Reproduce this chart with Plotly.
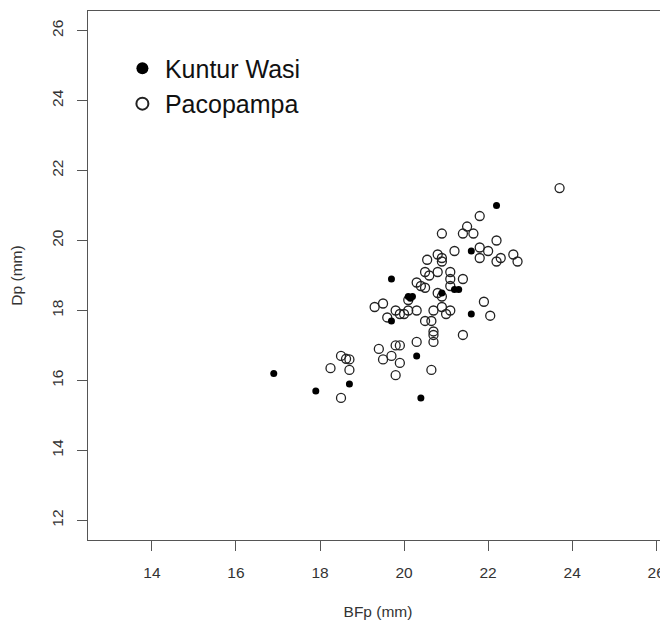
import plotly.graph_objects as go

# Kuntur Wasi (filled)
kw_bfp = [16.9, 17.9, 18.7, 19.7, 19.7, 20.1, 20.2, 20.15, 20.3, 20.4, 20.9, 21.2, 21.3, 21.6, 21.6, 22.2]
kw_dp = [16.2, 15.7, 15.9, 18.9, 17.7, 18.4, 18.4, 18.35, 16.7, 15.5, 18.5, 18.6, 18.6, 19.7, 17.9, 21.0]

# Pacopampa (open)
pp_bfp = [23.7, 21.8, 20.9, 21.4, 21.5, 21.65, 22.2, 21.2, 21.8, 22.0, 21.8, 22.2, 22.3, 22.6, 22.7,
          20.8, 20.9, 20.9, 20.55, 20.5, 20.6, 20.8, 21.1, 21.1, 21.4, 21.1, 20.3, 20.4, 20.5, 20.8,
          20.9, 20.1, 19.3, 19.5, 19.8, 20.1, 20.3, 19.9, 20.0, 19.6, 20.7, 20.9, 21.1, 21.0, 21.9,
          22.05, 20.5, 20.65, 20.7, 20.7, 20.7, 21.4, 20.3, 19.4, 19.7, 19.8, 19.9, 19.5, 19.9, 19.8,
          20.65, 18.5, 18.62, 18.7, 18.25, 18.7, 18.5]
pp_dp = [21.5, 20.7, 20.2, 20.2, 20.4, 20.2, 20.0, 19.7, 19.8, 19.7, 19.5, 19.4, 19.5, 19.6, 19.4,
         19.6, 19.5, 19.4, 19.45, 19.1, 19.0, 19.1, 19.1, 18.9, 18.9, 18.7, 18.8, 18.7, 18.65, 18.5,
         18.4, 18.3, 18.1, 18.2, 18.0, 18.0, 18.0, 17.9, 17.9, 17.8, 18.0, 18.1, 18.0, 17.9, 18.25,
         17.85, 17.7, 17.7, 17.4, 17.3, 17.1, 17.3, 17.1, 16.9, 16.7, 17.0, 17.0, 16.6, 16.5, 16.15,
         16.3, 16.7, 16.62, 16.6, 16.35, 16.3, 15.5]

x_ticks = [14, 16, 18, 20, 22, 24, 26]
y_ticks = [12, 14, 16, 18, 20, 22, 24, 26]

FONT = "Liberation Sans, Arial, sans-serif"
AX = "#555555"

fig = go.Figure()
fig.add_trace(go.Scatter(
    x=pp_bfp, y=pp_dp, mode="markers", name="Pacopampa",
    marker=dict(symbol="circle-open", size=9, color="#222222", line=dict(width=1.3, color="#222222")),
    legendrank=2,
))
fig.add_trace(go.Scatter(
    x=kw_bfp, y=kw_dp, mode="markers", name="Kuntur Wasi",
    marker=dict(symbol="circle", size=7, color="#000000"),
    legendrank=1,
))

fig.update_layout(
    width=660, height=617,
    margin=dict(l=80, r=0, t=3, b=85),
    paper_bgcolor="white", plot_bgcolor="white",
    font=dict(family=FONT, size=16, color="#222222"),
    showlegend=True,
    legend=dict(x=0.055, y=0.935, xanchor="left", yanchor="top",
                font=dict(size=25, color="#111111"), itemsizing="constant", itemwidth=35,
                bgcolor="rgba(0,0,0,0)", borderwidth=0, tracegroupgap=0),
    xaxis=dict(range=[12.48, 26.28], tickvals=x_ticks, ticks="outside", ticklen=10,
               tickcolor=AX, tickwidth=1.2, showline=True, linecolor=AX, linewidth=1.3,
               mirror=True, showgrid=False, zeroline=False,
               tickfont=dict(size=15.5, color="#333333"), ticklabelstandoff=8,
               title=dict(text="BFp (mm)", font=dict(size=15.5, color="#333333"), standoff=26)),
    yaxis=dict(range=[11.44, 26.56], tickvals=y_ticks, ticks="outside", ticklen=10,
               tickcolor=AX, tickwidth=1.2, showline=True, linecolor=AX, linewidth=1.3,
               mirror=False, showgrid=False, zeroline=False, tickangle=-90,
               tickfont=dict(size=15.5, color="#333333"), ticklabelstandoff=8,
               title=dict(text="Dp (mm)", font=dict(size=15.5, color="#333333"), standoff=24)),
)

fig.write_html("out.html")
